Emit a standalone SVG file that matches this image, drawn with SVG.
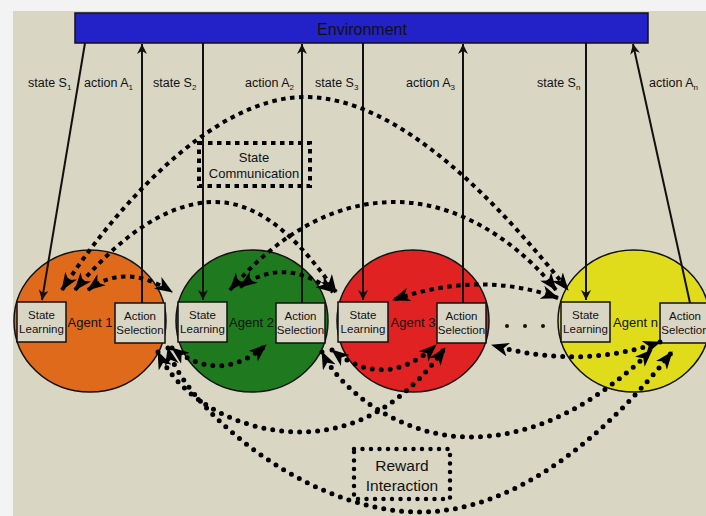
<svg xmlns="http://www.w3.org/2000/svg" width="706" height="516" viewBox="0 0 706 516">
<defs>
<style>
text{font-family:"Liberation Sans",Arial,sans-serif;fill:#111}
.lbl{font-size:12.5px}
.box{fill:#dad6c6;stroke:#111;stroke-width:1.5}
.bt{font-size:11.5px;text-anchor:middle}
.ag{font-size:13px;text-anchor:middle}
.env{stroke:#111;stroke-width:2;fill:none;marker-end:url(#ea)}
.sq{fill:none;stroke:#000;stroke-width:4;stroke-dasharray:4.5 4.5;marker-start:url(#ah);marker-end:url(#ah)}
.rd{fill:none;stroke:#000;stroke-width:5;stroke-linecap:round;stroke-dasharray:0 9;marker-start:url(#ah);marker-end:url(#ah)}
.sqb{fill:none;stroke:#000;stroke-width:4;stroke-dasharray:4.5 4.5}
.rdb{fill:none;stroke:#000;stroke-width:4.5;stroke-linecap:round;stroke-dasharray:0 8.5}
</style>
<marker id="ah" viewBox="0 0 18 14" refX="17" refY="7" markerWidth="18" markerHeight="14" markerUnits="userSpaceOnUse" orient="auto-start-reverse"><path d="M0,0 L18,7 L0,14 L5,7 z" fill="#000"/></marker>
<marker id="ea" viewBox="0 0 10 10" refX="10" refY="5" markerWidth="10" markerHeight="10" markerUnits="userSpaceOnUse" orient="auto"><path d="M0,0 L10,5 L0,10 L3,5 z" fill="#111"/></marker>
</defs>
<rect x="0" y="0" width="706" height="516" fill="#f3f3f3"/>
<rect x="13" y="11" width="693" height="505" fill="#d9d6c4"/>

<g id="environment">
<rect x="75" y="13" width="573" height="30" fill="#2222c8" stroke="#111" stroke-width="1.5"/>
<text x="362" y="35" font-size="16" text-anchor="middle">Environment</text>
</g>

<g id="agent1">
<ellipse cx="90" cy="321" rx="76" ry="71" fill="#e06a1c" stroke="#111" stroke-width="1.5"/>
<rect class="box" x="17" y="302" width="49" height="40"/>
<text class="bt" x="41.5" y="319">State</text><text class="bt" x="41.5" y="333">Learning</text>
<rect class="box" x="115" y="303" width="50" height="40"/>
<text class="bt" x="140" y="320">Action</text><text class="bt" x="140" y="334">Selection</text>
<text class="ag" x="90" y="327">Agent 1</text>
</g>
<g id="agent2">
<ellipse cx="252" cy="321" rx="76" ry="71" fill="#1f7a1f" stroke="#111" stroke-width="1.5"/>
<rect class="box" x="178" y="302" width="49" height="40"/>
<text class="bt" x="202.5" y="319">State</text><text class="bt" x="202.5" y="333">Learning</text>
<rect class="box" x="276" y="303" width="49" height="40"/>
<text class="bt" x="300.5" y="320">Action</text><text class="bt" x="300.5" y="334">Selection</text>
<text class="ag" x="251.5" y="327">Agent 2</text>
</g>
<g id="agent3">
<ellipse cx="413" cy="321" rx="76" ry="71" fill="#e02222" stroke="#111" stroke-width="1.5"/>
<rect class="box" x="338" y="302" width="50" height="40"/>
<text class="bt" x="363" y="319">State</text><text class="bt" x="363" y="333">Learning</text>
<rect class="box" x="437" y="303" width="49" height="40"/>
<text class="bt" x="461.5" y="320">Action</text><text class="bt" x="461.5" y="334">Selection</text>
<text class="ag" x="413" y="327">Agent 3</text>
</g>
<g id="agentn">
<ellipse cx="634" cy="321" rx="76" ry="71" fill="#e0dc1c" stroke="#111" stroke-width="1.5"/>
<rect class="box" x="561" y="302" width="49" height="40"/>
<text class="bt" x="585.5" y="319">State</text><text class="bt" x="585.5" y="333">Learning</text>
<rect class="box" x="660" y="303" width="50" height="40"/>
<text class="bt" x="685" y="320">Action</text><text class="bt" x="685" y="334">Selection</text>
<text class="ag" x="635.5" y="327">Agent n</text>
</g>
<g id="ellipsis" fill="#111">
<circle cx="507" cy="326" r="2"/><circle cx="525" cy="326" r="2"/><circle cx="543" cy="326" r="2"/>
</g>

<g id="state-communication">
<rect class="sqb" x="199" y="143" width="111" height="43"/>
<text x="254" y="162" font-size="13" text-anchor="middle">State</text>
<text x="254" y="178" font-size="13" text-anchor="middle">Communication</text>
</g>
<g id="reward-interaction">
<rect class="rdb" x="354" y="449" width="96" height="50"/>
<text x="402" y="471" font-size="15.5" text-anchor="middle">Reward</text>
<text x="402" y="491" font-size="15.5" text-anchor="middle">Interaction</text>
</g>

<g id="connectors">
<path class="env" d="M85,43 L42,300"/>
<path class="env" d="M142,303 L142,44"/>
<path class="env" d="M203,43 L203,300"/>
<path class="env" d="M302,303 L302,44"/>
<path class="env" d="M363,43 L363,300"/>
<path class="env" d="M463,303 L463,44"/>
<path class="env" d="M586,43 L586,300"/>
<path class="env" d="M690,303 L633,44"/>

<path class="sq" d="M62,290 C110,215 210,97 305,97 C400,97 500,205 568,290"/>
<path class="sq" d="M75,290 C110,248 160,202 215,202 C265,202 305,248 336,292"/>
<path class="sq" d="M230,290 C265,250 320,202 395,202 C465,202 525,250 556,290"/>
<path class="sq" d="M88,290 Q125,262 172,292"/>
<path class="sq" d="M240,287 Q285,255 333,292"/>
<path class="sq" d="M558,298 Q480,270 393,300"/>

<path class="rd" d="M172,348 Q220,385 266,345"/>
<path class="rd" d="M332,350 Q385,392 436,345"/>
<path class="rd" d="M660,342 Q580,370 492,345"/>
<path class="rd" d="M158,352 C180,400 240,432 300,432 C350,432 400,410 445,348"/>
<path class="rd" d="M322,352 C340,390 400,437 470,437 C540,437 600,400 652,350"/>
<path class="rd" d="M168,348 C180,400 300,512 420,512 C520,512 610,430 672,352"/>
</g>

<g id="labels" class="lbl">
<text class="lbl" x="28" y="87">state S<tspan dy="3" font-size="8">1</tspan></text>
<text class="lbl" x="84" y="87">action A<tspan dy="3" font-size="8">1</tspan></text>
<text class="lbl" x="153" y="87">state S<tspan dy="3" font-size="8">2</tspan></text>
<text class="lbl" x="245" y="87">action A<tspan dy="3" font-size="8">2</tspan></text>
<text class="lbl" x="315" y="87">state S<tspan dy="3" font-size="8">3</tspan></text>
<text class="lbl" x="406" y="87">action A<tspan dy="3" font-size="8">3</tspan></text>
<text class="lbl" x="537" y="87">state S<tspan dy="3" font-size="8">n</tspan></text>
<text class="lbl" x="649" y="87">action A<tspan dy="3" font-size="8">n</tspan></text>
</g>
</svg>
